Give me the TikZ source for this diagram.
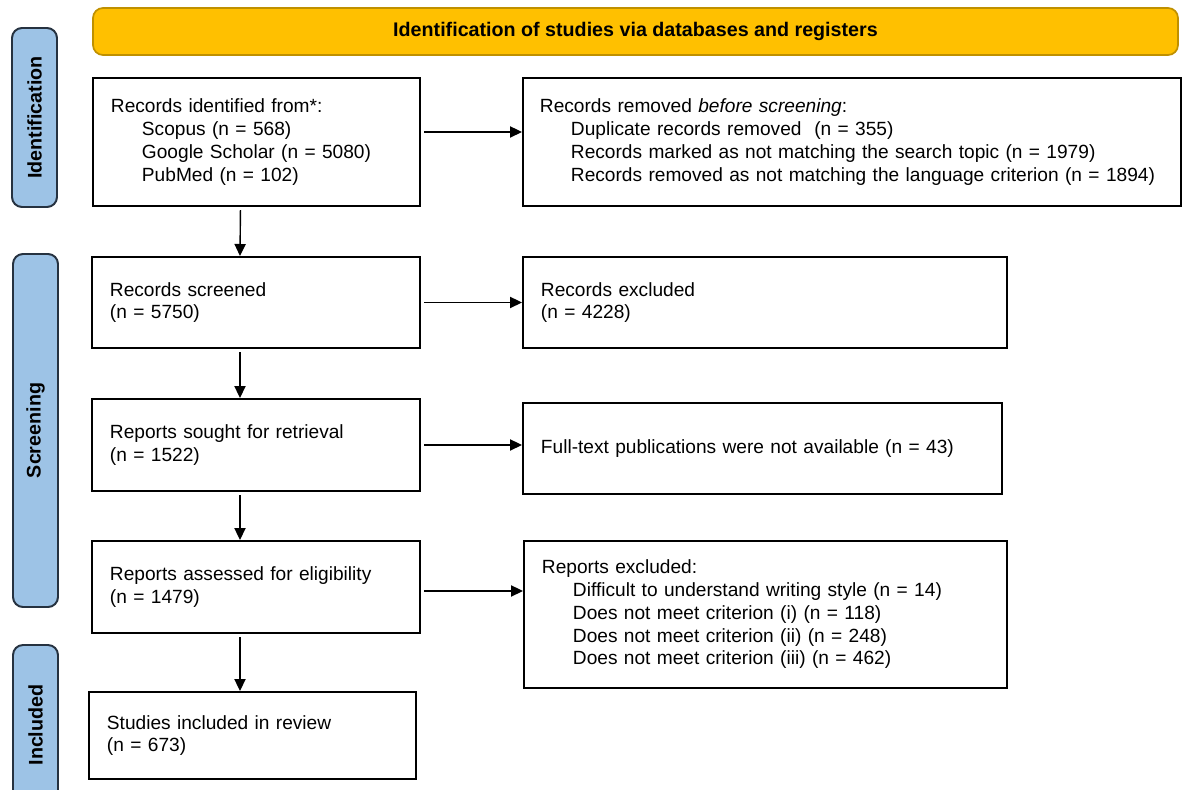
\documentclass[tikz,border=0pt]{standalone}
\usepackage{fontspec}
\setmainfont{Liberation Sans}
\usepackage{xcolor}
\usepackage{tikz}
\usetikzlibrary{arrows.meta, positioning}

\definecolor{bannerfill}{RGB}{255,192,0}
\definecolor{bannerline}{RGB}{191,144,0}
\definecolor{phasefill}{RGB}{157,195,230}
\definecolor{phaseline}{RGB}{38,50,64}

\newcommand{\indline}{\hspace*{7.75mm}}

\begin{document}
\begin{tikzpicture}[
    x=0.25mm, y=-0.25mm,
    box/.style={rectangle, draw, line width=1.4pt, anchor=north west, inner xsep=4.5mm, inner ysep=0pt, align=left, font=\fontsize{13.6}{16.2}\selectfont},
    phase/.style={rectangle, rounded corners=2.5mm, draw=phaseline, fill=phasefill, line width=1.4pt, rotate=90, minimum height=11.25mm, inner sep=0pt, font=\fontsize{14}{16}\selectfont\bfseries},
    banner/.style={rectangle, rounded corners=2.5mm, draw=bannerline, fill=bannerfill, line width=1.2pt, minimum width=271.25mm, minimum height=11.75mm, font=\fontsize{14}{16}\selectfont\bfseries},
    arrow/.style={-{Triangle[length=3mm, width=2.8mm]}, line width=1pt, shorten <=0.8mm}
]
    \useasboundingbox (0,0) rectangle (1186,789);
    \clip (0,0) rectangle (1186,789);

    % Phases
    \node[banner] (banner) at (635.5,31.5) {Identification of studies via databases and registers};
    \node[phase, minimum width=44.75mm] (phaseident) at (34.5,117.5) {Identification};
    \node[phase, minimum width=88.25mm] (phasescreen) at (35.5,430.5) {Screening};
    \node[phase, minimum width=40mm] (phaseincl) at (35.5,725) {Included};

    % Nodes
    \node[box, text width=72.75mm, minimum height=32mm] (records) at (92,77)
        {Records identified from*:\\ \indline Scopus (n = 568)\\ \indline Google Scholar (n = 5080)\\ \indline PubMed (n = 102)};
    \node[box, text width=156mm, minimum height=32mm, inner xsep=4.25mm] (removed) at (522,77)
        {Records removed \textit{before screening}:\\ \indline Duplicate records removed\ \ (n = 355)\\ \indline Records marked as not matching the search topic (n = 1979)\\ \indline Records removed as not matching the language criterion (n = 1894)};
    \node[box, text width=73mm, minimum height=22.75mm] (screened) at (91,256)
        {Records screened\\ (n = 5750)};
    \node[box, text width=112mm, minimum height=22.75mm] (excluded) at (522,256)
        {Records excluded\\ (n = 4228)};
    \node[box, text width=73mm, minimum height=23mm] (sought) at (91,398)
        {Reports sought for retrieval\\ (n = 1522)};
    \node[box, text width=110.75mm, minimum height=22.75mm] (notavail) at (522,402)
        {Full-text publications were not available (n = 43)};
    \node[box, text width=73mm, minimum height=23mm] (assessed) at (91,540)
        {Reports assessed for eligibility\\ (n = 1479)};
    \node[box, text width=111.75mm, minimum height=36.75mm] (repexcl) at (523,540)
        {Reports excluded:\\ \indline Difficult to understand writing style (n = 14)\\ \indline Does not meet criterion (i) (n = 118)\\ \indline Does not meet criterion (ii) (n = 248)\\ \indline Does not meet criterion (iii) (n = 462)};
    \node[box, text width=72.75mm, minimum height=21.75mm] (included) at (88,691)
        {Studies included in review\\ (n = 673)};

    % Arrows
    \draw[arrow] ([yshift=2.5mm]records.east) -- ([yshift=2.5mm]removed.west);
    \draw[arrow] ([xshift=-4mm]records.south) -- ([xshift=-4mm]screened.north);
    \draw[arrow] (screened.east) -- (screened.east -| excluded.west);
    \draw[arrow] ([xshift=-4mm]screened.south) -- ([xshift=-4mm]sought.north);
    \draw[arrow] (sought.east) -- (sought.east -| notavail.west);
    \draw[arrow] ([xshift=-4mm]sought.south) -- ([xshift=-4mm]assessed.north);
    \draw[arrow] ([yshift=-1mm]assessed.east) -- ([yshift=-1mm]assessed.east -| repexcl.west);
    \draw[arrow] ([xshift=-4mm]assessed.south) -- ([xshift=-4mm]assessed.south |- included.north);
\end{tikzpicture}
\end{document}
